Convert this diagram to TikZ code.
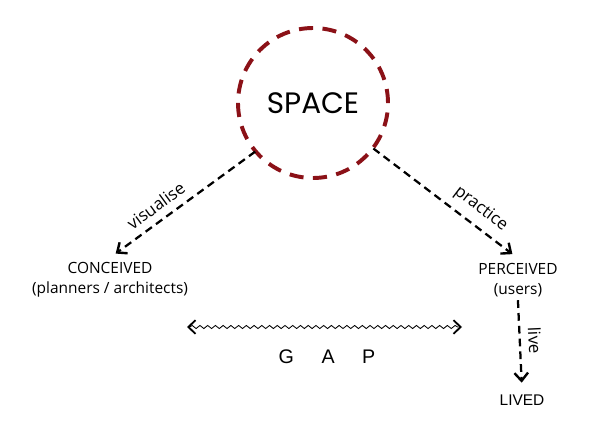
\documentclass[tikz,border=0pt]{standalone}
\usepackage{fontspec}
\setmainfont{Open Sans}
\newfontfamily\gothicfont{Poppins}
\newfontfamily\plainfont{Liberation Sans}
\usetikzlibrary{arrows.meta,decorations.pathmorphing}
\definecolor{spacered}{RGB}{139,17,23}

\begin{document}
\begin{tikzpicture}[
	flow/.style={line width=1.6pt, dash pattern=on 5.5pt off 3.6pt, -{Straight Barb[length=2mm, width=3.4mm, line width=1.7pt]}},
	lab/.style={font=\fontsize{11}{14}\selectfont, align=center}
	]
			\useasboundingbox (0,0) rectangle (14.95,11.1);
			\node[draw=spacered, circle, line width=2.8pt, dash pattern=on 10pt off 6.76pt, minimum size=3.75cm, font=\gothicfont\fontsize{21}{24}\selectfont] (space) at (7.825, 8.525) {SPACE};
			\node[lab] (conc) at (2.75,  4.1)  {CONCEIVED\\(planners / architects)};
			\node[lab] (perc) at (12.95, 4.1)  {PERCEIVED\\(users)};
			\node[lab, font=\plainfont\fontsize{11}{13}\selectfont] (lived) at (13.05, 1.1)  {LIVED};
			\node[font=\plainfont\fontsize{14}{16}\selectfont] (gap) at (8.175, 2.175)  {G\hspace{1.4em}A\hspace{1.4em}P};
			\coordinate (gapl) at (4.675, 2.925);
			\coordinate (gapr) at (11.55, 2.925);
			
			\def\list {space.220/conc.north/0.62/visualise, space.-37/perc.north/0.67/practice, perc.south/lived.north/0.45/live}  % dashed arrows
			\foreach \u/\v/\p/\t in \list
			{	\draw[flow, shorten <=-1pt, shorten >=5pt] (\u) -- node[pos=\p, above=2pt, sloped, font=\fontsize{12}{14}\selectfont] {\t} (\v);}
			
			\draw[{Straight Barb[length=1.8mm, width=3.4mm, line width=1.3pt]}-{Straight Barb[length=1.8mm, width=3.4mm, line width=1.3pt]}, line width=0.6pt, decorate, decoration={snake, amplitude=1.1pt, segment length=5.5pt, pre length=2pt, post length=2pt}] (gapl) -- (gapr);
		\end{tikzpicture}
\end{document}
